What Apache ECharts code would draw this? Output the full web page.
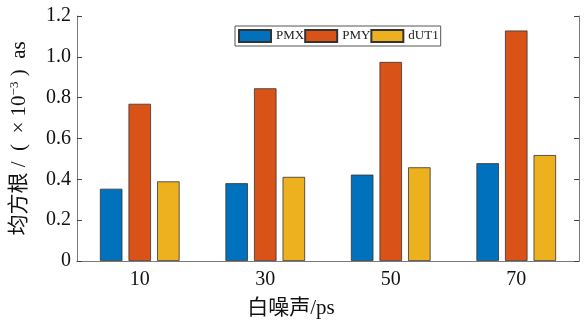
<!DOCTYPE html>
<html>
<head>
<meta charset="utf-8">
<script src="https://cdn.jsdelivr.net/npm/echarts@6/dist/echarts.min.js"></script>
<style>html,body{margin:0;padding:0;background:#fff}#c{width:586px;height:324px}</style>
</head>
<body>
<div id="c"></div>
<script>
const categories = ['10', '30', '50', '70'];
const seriesNames = ['PMX', 'PMY', 'dUT1'];
const pmx = [0.354, 0.381, 0.423, 0.479];
const pmy = [0.770, 0.846, 0.975, 1.129];
const dut1 = [0.390, 0.412, 0.459, 0.519];
const yTicks = [0, 0.2, 0.4, 0.6, 0.8, 1.0, 1.2];
const colors = ['#0072BD', '#D95319', '#EDB120'];

const serif = "'Liberation Serif', 'Times New Roman', 'Noto Sans CJK SC', serif";
const axisCol = '#7a7a7a';
const chart = echarts.init(document.getElementById('c'));
const values = [pmx, pmy, dut1];

chart.setOption({
  animation: false,
  color: colors,
  grid: { left: 77, right: 7, top: 16, bottom: 59, containLabel: false },
  legend: {
    left: 235, top: 26,
    icon: 'rect',
    itemWidth: 32, itemHeight: 12, itemGap: 0,
    padding: [3, 2, 3, 3],
    backgroundColor: '#fff',
    borderColor: '#555', borderWidth: 1,
    textStyle: { fontFamily: serif, fontSize: 13, color: '#222' },
    data: seriesNames
  },
  xAxis: [{
    type: 'category', data: categories, position: 'bottom', z: 5,
    axisLine: { lineStyle: { color: axisCol, width: 1 } },
    axisTick: { inside: true, alignWithLabel: true, length: 5, lineStyle: { color: '#444' } },
    axisLabel: { fontFamily: serif, fontSize: 20, color: '#111', margin: 9 },
    name: '白噪声/ps', nameLocation: 'middle', nameGap: 37,
    nameTextStyle: { fontFamily: serif, fontSize: 21, color: '#111', padding: [0, 74, 0, 0] }
  }, {
    type: 'category', data: categories, position: 'top', z: 5,
    axisLine: { lineStyle: { color: axisCol, width: 1 } },
    axisTick: { inside: true, alignWithLabel: true, length: 5, lineStyle: { color: '#444' } },
    axisLabel: { show: false }
  }],
  yAxis: [{
    type: 'value', min: 0, max: 1.2, interval: 0.2, position: 'left', z: 5,
    axisLine: { show: true, lineStyle: { color: axisCol, width: 1 } },
    axisTick: { show: true, inside: true, length: 5, lineStyle: { color: '#444' } },
    splitLine: { show: false },
    axisLabel: {
      fontFamily: serif, fontSize: 20, color: '#111', margin: 6,
      formatter: v => { const t = yTicks.find(x => Math.abs(x - v) < 1e-9); return t === 0 ? '0' : t.toFixed(1); }
    },
    name: '均方根 /  (  × 10{sup|−3} )  as', nameLocation: 'middle', nameGap: 46, nameRotate: 90,
    nameTextStyle: {
      fontFamily: serif, fontSize: 21, color: '#111',
      rich: { sup: { fontFamily: serif, fontSize: 13, color: '#111', verticalAlign: 'top', padding: [0, 0, 10, 0] } }
    }
  }, {
    type: 'value', min: 0, max: 1.2, interval: 0.2, position: 'right', z: 5,
    axisLine: { show: true, lineStyle: { color: axisCol, width: 1 } },
    axisTick: { show: true, inside: true, length: 5, lineStyle: { color: '#444' } },
    splitLine: { show: false },
    axisLabel: { show: false }
  }],
  series: seriesNames.map((n, i) => ({
    name: n, type: 'bar', xAxisIndex: 0, yAxisIndex: 0,
    data: values[i],
    barWidth: 22.5, barGap: '27%', barCategoryGap: '36%',
    itemStyle: { color: colors[i], borderColor: '#333', borderWidth: 0.8 }
  }))
});
</script>
</body>
</html>
